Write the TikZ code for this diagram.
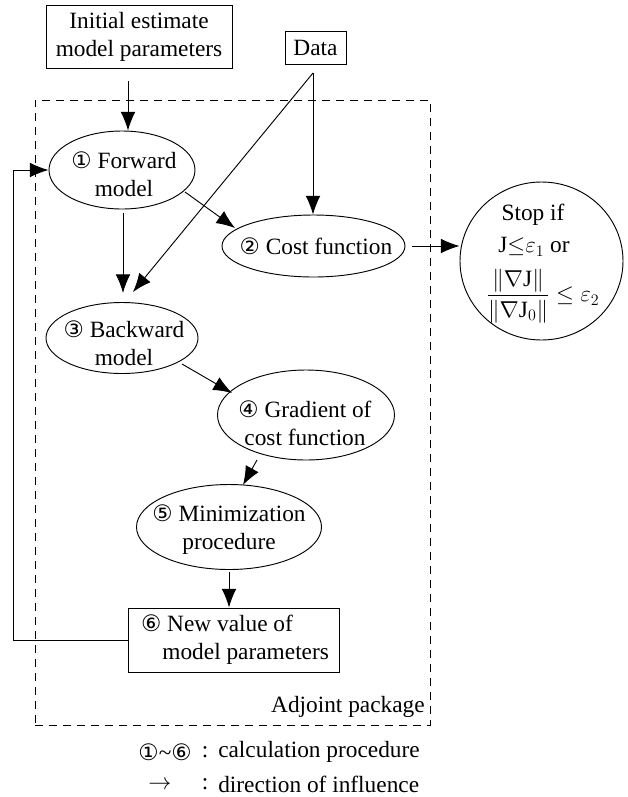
\documentclass[tikz,border=0pt]{standalone}
\usepackage{amsmath}
\usepackage{fontspec}
\setmainfont{Liberation Serif}
\newfontfamily\symf{DejaVu Sans}
\usetikzlibrary{shapes.geometric,arrows.meta,calc}
\newcommand{\cnum}[1]{{\symf\fontsize{17}{17}\selectfont #1}}
\begin{document}
\begin{tikzpicture}[x=0.75pt,y=-0.75pt,
  font=\fontsize{17.5}{21}\selectfont,
  every node/.style={inner sep=0pt},
  txt/.style={align=center},
  arr/.style={line width=0.7pt,-{Latex[length=14pt,width=11pt]}},
  ln/.style={line width=0.7pt},
  ell/.style={draw,ellipse,line width=0.7pt},
  bx/.style={draw,rectangle,line width=0.7pt},
  dbox/.style={draw,rectangle,line width=0.7pt,dash pattern=on 6pt off 4.5pt}]
\useasboundingbox (0,0) rectangle (628,797);

% adjoint package frame
\node[dbox,minimum width=296.25pt,minimum height=468.75pt] (adj) at (232.5,412.5) {};
\node[anchor=east] (adjt) at (425,707) {Adjoint package};

% top boxes
\node[bx,minimum width=139.5pt,minimum height=47.25pt] (init) at (139,36.5) {};
\node[txt] (initt) at (init) {Initial estimate\\model parameters};
\node[bx,minimum width=45.75pt,minimum height=24.75pt] (data) at (315.5,47.5) {};
\node (datat) at (data) {Data};

% ellipses
\node[ell,minimum width=109.5pt,minimum height=58.5pt] (e1) at (122,170) {};
\node[txt] (e1t) at (124,174) {\cnum{①} Forward\\model};
\node[ell,minimum width=137.25pt,minimum height=46.5pt] (e2) at (313.5,246) {};
\node[txt] (e2t) at (316,246) {\cnum{②} Cost function};
\node[ell,minimum width=114pt,minimum height=53.25pt] (e3) at (122,338) {};
\node[txt] (e3t) at (124,343) {\cnum{③} Backward\\model};
\node[ell,minimum width=132.75pt,minimum height=67.5pt] (e4) at (306,415) {};
\node[txt] (e4t) at (305,423) {\cnum{④} Gradient of\\cost function};
\node[ell,minimum width=138.75pt,minimum height=63.75pt] (e5) at (229,527) {};
\node[txt] (e5t) at (229,530) {\cnum{⑤} Minimization\\procedure};
\node[bx,minimum width=158.25pt,minimum height=48pt] (b6) at (233.5,640) {};
\node[align=left] (b6t) at (235,640) {\cnum{⑥} New value of\\\hspace*{16pt}model parameters};

% stop circle
\node[ell,minimum width=122.25pt,minimum height=118.5pt] (stop) at (541.5,261) {};
\node (st1) at (533,215) {Stop if};
\node (st2) at (534,247) {$\mathrm{J}{\leq}\varepsilon_1$ or};
\node (st3) at (543,296) {$\dfrac{\|\nabla\mathrm{J}\|}{\|\nabla\mathrm{J}_0\|}\leq\varepsilon_2$};

% connectors
\coordinate (i1) at (128,81);
\draw[arr] (i1) -- (i1 |- e1.north);
\coordinate (d0) at (313,73);
\draw[arr] (d0) -- (d0 |- e2.north);
\coordinate (d1) at (133,292);
\draw[arr] (d0) -- (d1);
\coordinate (f1) at (123,213);
\coordinate (f2) at (123,293);
\draw[arr] (f1) -- (f2);
\coordinate (g1) at (185,192);
\coordinate (g2) at (235,228);
\draw[arr] (g1) -- (g2);
\draw[arr] ([xshift=5pt]e2.east) -- (stop.west |- e2.east);
\coordinate (h1) at (182,364);
\coordinate (h2) at (232,393);
\draw[arr] (h1) -- (h2);
\coordinate (k1) at (257,460);
\coordinate (k2) at (243,485);
\draw[arr] (k1) -- (k2);
\coordinate (m1) at (229,572);
\draw[arr] (m1) -- (m1 |- b6.north);
\draw[arr] (b6.west) -- ++(-114,0) |- (e1.west);

% legend
\node[anchor=east] (lg1) at (192,752) {\cnum{①}\textasciitilde\cnum{⑥}};
\node (lc1) at (205,752) {:};
\node[anchor=west] (lt1) at (218,752) {calculation procedure};
\node (la) at (160,785) {$\rightarrow$};
\node (lc2) at (205,784) {:};
\node[anchor=west] (lt2) at (218,784) {direction of influence};
\end{tikzpicture}
\end{document}
